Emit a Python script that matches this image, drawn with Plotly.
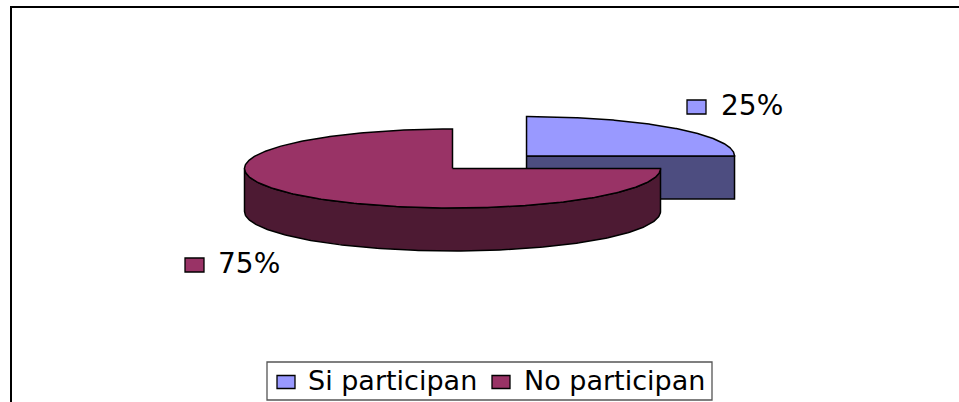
import numpy as np
import plotly.graph_objects as go

# ---- data ----
labels = ["Si participan", "No participan"]
values = [25, 75]
explode = [1.0, 0.0]

# ---- style ----
top_colors = ["#9999FF", "#993366"]
side_colors = ["#4D4D80", "#4D1A33"]
W, H = 959, 402
CX, CY = 452.5, 168.5          # pie centre (pixels)
RX, RY = 208.0, 39.5           # ellipse radii of top face
DEPTH = 43.0                   # thickness of the pie
EX, EY = 104.7, 17.7           # explode offset scale
FONT = "DejaVu Sans"
FS_LABEL = 28
FS_LEG = 27
label_pos = [(687, 100, 719), (185, 258, 216)]   # (square x, square y, text x) per slice
label_sq = (19, 14)

total = float(sum(values))
fracs = [v / total for v in values]
pct_text = [f"{f*100:.0f}%" for f in fracs]

fig = go.Figure()


def rim(theta, cx, cy, dz=0.0):
    return cx + RX * np.sin(theta), cy - RY * np.cos(theta) + dz


def add_poly(xs, ys, color):
    fig.add_trace(go.Scatter(x=list(xs), y=list(ys), mode="lines", fill="toself",
                             fillcolor=color, line=dict(color="black", width=1.5),
                             hoverinfo="skip", showlegend=False))


# slice geometry
slices = []
start = 0.0
for i, f in enumerate(fracs):
    a0 = start
    a1 = start + f * 2 * np.pi
    mid = (a0 + a1) / 2
    cx = CX + explode[i] * EX * np.sin(mid)
    cy = CY - explode[i] * EY * np.cos(mid)
    slices.append((i, a0, a1, mid, cx, cy))
    start = a1

# draw back-to-front
for i, a0, a1, mid, cx, cy in sorted(slices, key=lambda s: -np.cos(s[3])):
    # radial cut faces
    for a, visible in ((a0, np.sin(a0) < -1e-9), (a1, np.sin(a1) > 1e-9)):
        if visible:
            px, py = rim(a, cx, cy)
            add_poly([cx, px, px, cx, cx], [cy, py, py + DEPTH, cy + DEPTH, cy], side_colors[i])
    # outer curved side (front half: pi/2 .. 3pi/2)
    s0 = max(a0, np.pi / 2)
    s1 = min(a1, 3 * np.pi / 2)
    if s1 > s0:
        t = np.linspace(s0, s1, 200)
        tx, ty = rim(t, cx, cy)
        bx, by = rim(t[::-1], cx, cy, DEPTH)
        add_poly(np.concatenate([tx, bx, tx[:1]]), np.concatenate([ty, by, ty[:1]]), side_colors[i])
    # top face
    t = np.linspace(a0, a1, 300)
    tx, ty = rim(t, cx, cy)
    add_poly(np.concatenate([[cx], tx, [cx]]), np.concatenate([[cy], ty, [cy]]), top_colors[i])

shapes = []
annotations = []
# data labels
for i, (sx, sy, txx) in enumerate(label_pos):
    shapes.append(dict(type="rect", xref="x", yref="y", x0=sx, x1=sx + label_sq[0],
                       y0=sy, y1=sy + label_sq[1], fillcolor=top_colors[i],
                       line=dict(color="black", width=1.3)))
    annotations.append(dict(x=txx, y=sy + label_sq[1] / 2 - 1.5, xref="x", yref="y",
                            text=pct_text[i], showarrow=False, xanchor="left",
                            yanchor="middle", font=dict(family=FONT, size=FS_LABEL, color="black")))

# legend
leg_box = (267, 362, 712, 400)
leg_items = [(277, 306), (492, 522)]
shapes.append(dict(type="rect", xref="x", yref="y", x0=leg_box[0], y0=leg_box[1],
                   x1=leg_box[2], y1=leg_box[3], line=dict(color="#555555", width=1.3),
                   fillcolor="rgba(0,0,0,0)"))
for i, (sx, txx) in enumerate(leg_items):
    shapes.append(dict(type="rect", xref="x", yref="y", x0=sx, x1=sx + 18,
                       y0=375.5, y1=388.5, fillcolor=top_colors[i],
                       line=dict(color="black", width=1.3)))
    annotations.append(dict(x=txx, y=380.5, xref="x", yref="y", text=labels[i],
                            showarrow=False, xanchor="left", yanchor="middle",
                            font=dict(family=FONT, size=FS_LEG, color="black")))

# outer chart border (extends beyond the visible area)
shapes.append(dict(type="rect", xref="x", yref="y", x0=11, y0=7, x1=1100, y1=600,
                   line=dict(color="black", width=2), fillcolor="rgba(0,0,0,0)"))

fig.update_layout(
    width=W, height=H, autosize=False,
    margin=dict(l=0, r=0, t=0, b=0),
    paper_bgcolor="white", plot_bgcolor="white",
    xaxis=dict(range=[0, W], visible=False, fixedrange=True),
    yaxis=dict(range=[H, 0], visible=False, fixedrange=True),
    shapes=shapes, annotations=annotations, showlegend=False,
)

fig.write_html("out.html")
